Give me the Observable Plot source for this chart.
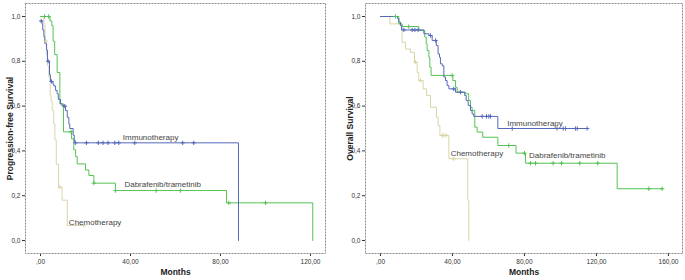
<!DOCTYPE html>
<html>
<head>
<meta charset="utf-8">
<script src="https://cdn.jsdelivr.net/npm/d3@7"></script>
<script src="https://cdn.jsdelivr.net/npm/@observablehq/plot@0.6"></script>
<style>
  html, body { margin: 0; padding: 0; background: #fff; }
  #wrap { display: flex; flex-direction: row; width: 685px; height: 280px; }
  [aria-label="x-axis label"], [aria-label="y-axis label"] { font-weight: bold; font-size: 8.5px; fill: #222; }
</style>
</head>
<body>
<div id="wrap"></div>
<script>
// ---------- Data ----------
const groups = ["Chemotherapy", "Dabrafenib/trametinib", "Immunotherapy"];
const groupColors = ["#dad5a6", "#55c255", "#5668ba"];

// Progression-free survival (left panel): step times (months) and survival
const pfsChemoT = [0, 1.5, 2.0, 2.6, 3.1, 3.7, 4.3, 4.7, 5.2, 5.9, 6.4, 7.0, 8.0, 9.6, 11.9, 19.2];
const pfsChemoS = [1.0, 0.967, 0.89, 0.83, 0.78, 0.73, 0.65, 0.62, 0.58, 0.52, 0.45, 0.34, 0.238, 0.18, 0.067, 0.067];
const pfsChemoCens = [2.4, 8.6, 19.2];

const pfsDabT = [0, 4.2, 5.0, 5.6, 6.3, 7.4, 8.6, 10.2, 13.8, 14.8, 15.6, 16.3, 20.0, 21.5, 23.7, 33.3, 82.7, 121.0];
const pfsDabS = [1.0, 0.98, 0.96, 0.89, 0.83, 0.75, 0.61, 0.485, 0.454, 0.405, 0.375, 0.342, 0.315, 0.29, 0.256, 0.223, 0.168, 0.0];
const pfsDabCens = [1.8, 3.6, 13.6, 23.7, 33.3, 51.4, 62.2, 83.7, 100.0];

const pfsImmT = [0, 0.7, 1.0, 1.5, 1.9, 2.7, 3.1, 4.0, 4.4, 5.5, 5.9, 6.7, 7.4, 7.9, 8.9, 9.6, 11.1, 11.9, 12.6, 13.0, 14.5, 15.0, 15.3, 88.0];
const pfsImmS = [0.98, 0.965, 0.94, 0.91, 0.88, 0.85, 0.80, 0.74, 0.71, 0.70, 0.69, 0.67, 0.655, 0.63, 0.61, 0.60, 0.58, 0.55, 0.52, 0.50, 0.47, 0.446, 0.436, 0.0];
const pfsImmCens = [0.3, 3.4, 4.9, 10.8, 15.5, 20.4, 25.7, 27.8, 30.0, 33.0, 34.8, 41.9, 63.2, 68.1];

// Overall survival (right panel)
const osChemoT = [0, 5.2, 12.0, 13.9, 16.7, 18.9, 20.4, 21.3, 23.7, 25.6, 27.8, 31.1, 32.0, 33.0, 38.0, 48.5, 49.1];
const osChemoS = [1.0, 0.967, 0.885, 0.855, 0.84, 0.796, 0.75, 0.714, 0.677, 0.647, 0.595, 0.55, 0.513, 0.469, 0.365, 0.18, 0.0];
const osChemoCens = [19.4, 22.2, 34.3, 35.2, 36.5, 40.7];

const osDabT = [0, 10.2, 12.0, 21.3, 24.6, 25.4, 25.9, 26.9, 27.4, 28.1, 40.2, 41.7, 42.6, 47.2, 49.0, 50.0, 50.9, 52.4, 53.7, 56.8, 65.2, 75.3, 80.6, 131.5, 156.5];
const osDabS = [1.0, 0.967, 0.955, 0.9375, 0.908, 0.878, 0.848, 0.818, 0.774, 0.737, 0.714, 0.684, 0.662, 0.655, 0.625, 0.595, 0.58, 0.506, 0.484, 0.461, 0.424, 0.39, 0.345, 0.231, 0.231];
const osDabCens = [8.3, 15.7, 39.8, 71.3, 80.0, 83.3, 86.1, 95.9, 100.6, 110.7, 120.7, 149.1, 156.5];

const osImmT = [0, 9.5, 10.2, 11.1, 11.7, 24.1, 26.9, 28.7, 31.0, 32.0, 32.8, 33.3, 34.3, 35.2, 36.1, 37.0, 38.0, 41.7, 46.8, 47.6, 48.7, 50.0, 50.9, 51.8, 65.2, 115.0];
const osImmS = [1.0, 0.99, 0.975, 0.96, 0.94, 0.923, 0.915, 0.893, 0.87, 0.833, 0.818, 0.789, 0.78, 0.73, 0.714, 0.692, 0.677, 0.662, 0.647, 0.625, 0.603, 0.58, 0.565, 0.554, 0.50, 0.50];
const osImmCens = [13.0, 17.6, 19.1, 20.9, 27.8, 30.6, 40.7, 44.4, 56.5, 58.9, 60.2, 61.1, 73.2, 98.1, 101.5, 102.8, 108.3, 109.3, 114.8];

// Curve labels (text, x in months, y survival)
const pfsLabelX = [12.6, 37.3, 36.6];
const pfsLabelY = [0.082, 0.25, 0.46];
const osLabelX = [39.0, 82.5, 70.4];
const osLabelY = [0.39, 0.38, 0.524];

// Axes
const yTicks = [0, 0.2, 0.4, 0.6, 0.8, 1.0];
const yTickLabels = ["0,0", "0,2", "0,4", "0,6", "0,8", "1,0"];
const pfsXTicks = [0, 40, 80, 120];
const pfsXTickLabels = [",00", "40,00", "80,00", "120,00"];
const osXTicks = [0, 40, 80, 120, 160];
const osXTickLabels = [",00", "40,00", "80,00", "120,00", "160,00"];

// ---------- Helpers ----------
function curve(group, T, S) { return T.map((t, i) => ({group, t, s: S[i]})); }
function survAt(T, S, t) { let v = S[0]; for (let i = 0; i < T.length; i++) if (T[i] <= t) v = S[i]; return v; }
function cens(group, T, S, C) { return C.map(t => ({group, t, s: survAt(T, S, t)})); }

function panel({width, marginLeft, marginRight, xDomain, xTicks, xTickLabels, yLabel, series, labelX, labelY}) {
  const lines = series.flatMap(d => curve(d.group, d.T, d.S));
  const marks = series.flatMap(d => cens(d.group, d.T, d.S, d.C));
  const labels = groups.map((g, i) => ({g, x: labelX[i], y: labelY[i]}));
  return Plot.plot({
    width, height: 280,
    marginTop: 3, marginBottom: 27, marginLeft, marginRight,
    style: {fontFamily: "'Liberation Sans', Arial, sans-serif", fontSize: "6.5px", color: "#333", background: "#fff", overflow: "visible"},
    x: {domain: xDomain, ticks: xTicks, tickFormat: d => xTickLabels[xTicks.indexOf(d)], tickSize: 3, tickPadding: 3,
        label: "Months", labelAnchor: "center", labelArrow: "none", labelOffset: 21},
    y: {domain: [-0.058, 1.058], ticks: yTicks, tickFormat: d => yTickLabels[yTicks.indexOf(d)], tickSize: 3, tickPadding: 2,
        label: yLabel, labelAnchor: "center", labelArrow: "none", labelOffset: 19},
    color: {domain: groups, range: groupColors},
    marks: [
      Plot.frame({stroke: "#8a8a8a", strokeDasharray: "2,1", strokeWidth: 1}),
      Plot.line(lines, {x: "t", y: "s", z: "group", stroke: "group", curve: "step-after", strokeWidth: 1}),
      Plot.dot(marks, {x: "t", y: "s", stroke: "group", symbol: "plus", r: 1.5, strokeWidth: 1}),
      Plot.text(labels, {x: "x", y: "y", text: "g", textAnchor: "start", fill: "#444", fontSize: 8})
    ]
  });
}

const wrap = document.getElementById("wrap");
wrap.appendChild(panel({
  width: 340, marginLeft: 25, marginRight: 15,
  xDomain: [-6.67, 126.67], xTicks: pfsXTicks, xTickLabels: pfsXTickLabels,
  yLabel: "Progression-free Survival",
  series: [
    {group: groups[0], T: pfsChemoT, S: pfsChemoS, C: pfsChemoCens},
    {group: groups[1], T: pfsDabT, S: pfsDabS, C: pfsDabCens},
    {group: groups[2], T: pfsImmT, S: pfsImmS, C: pfsImmCens}
  ],
  labelX: pfsLabelX, labelY: pfsLabelY
}));
wrap.appendChild(panel({
  width: 345, marginLeft: 25, marginRight: 3,
  xDomain: [-8.33, 167.8], xTicks: osXTicks, xTickLabels: osXTickLabels,
  yLabel: "Overall Survival",
  series: [
    {group: groups[0], T: osChemoT, S: osChemoS, C: osChemoCens},
    {group: groups[1], T: osDabT, S: osDabS, C: osDabCens},
    {group: groups[2], T: osImmT, S: osImmS, C: osImmCens}
  ],
  labelX: osLabelX, labelY: osLabelY
}));
</script>
</body>
</html>
